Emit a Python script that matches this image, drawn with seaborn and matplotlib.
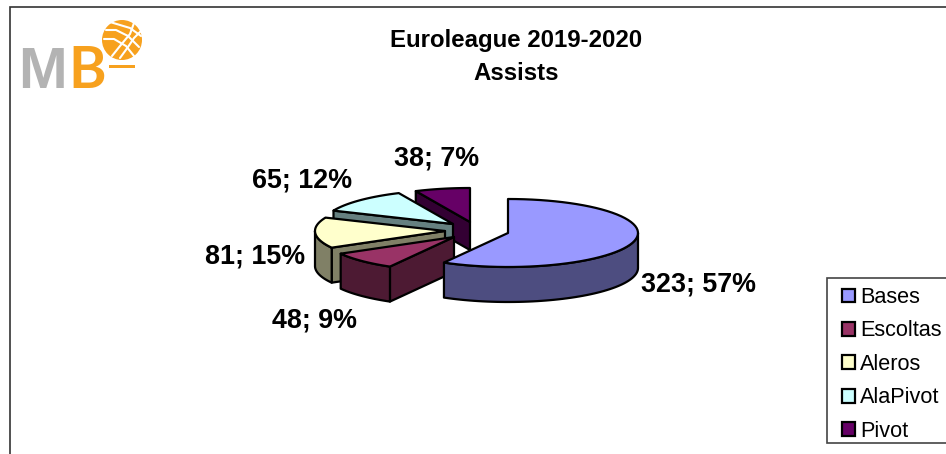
import numpy as np
import matplotlib
matplotlib.use("Agg")
import matplotlib.pyplot as plt
from matplotlib.patches import Polygon, Patch, Circle, Rectangle
import seaborn as sns

categories = ["Bases", "Escoltas", "Aleros", "AlaPivot", "Pivot"]
values = [323, 48, 81, 65, 38]
percents = [57, 9, 15, 12, 7]
colors = ["#9999FF", "#993366", "#FFFFCC", "#CCFFFF", "#660066"]
side_colors = ["#4D4D80", "#4D1A33", "#808066", "#668080", "#330033"]
centers = [(508, 233), (454, 237), (445, 231), (453, 224), (470, 222)]
depths = [35, 35, 35, 35, 28]
label_pos = [(698, 285), (314, 321), (255, 257), (302, 181), (437, 159)]
title_lines = ["Euroleague 2019-2020", "Assists"]

sns.set_theme(style="white")
plt.rcParams["font.family"] = ["Liberation Sans", "DejaVu Sans"]

fig = plt.figure(figsize=(9.46, 4.54), dpi=100)
ax = fig.add_axes([0, 0, 1, 1])
ax.set_xlim(0, 946)
ax.set_ylim(454, 0)
ax.axis("off")

# frame (open at right / bottom)
ax.plot([10, 10, 946], [454, 7, 7], color="#333333", lw=1.2, solid_joinstyle="miter")

RX, RY = 130, 34
LW = 1.6


def arc(c, a0, a1, n=60):
    t = np.radians(np.linspace(a0, a1, n))
    return np.column_stack([c[0] + RX * np.sin(t), c[1] - RY * np.cos(t)])


def poly(pts, fc, z):
    ax.add_patch(Polygon(pts, closed=True, facecolor=fc, edgecolor="black",
                         lw=LW, joinstyle="round", zorder=z))


edges = np.concatenate([[0], np.cumsum(values)]) / np.sum(values) * 360
for i in range(len(values) - 1, -1, -1):
    c, d = centers[i], depths[i]
    a0, a1 = edges[i], edges[i + 1]
    z = 10 + (len(values) - i) * 3
    down = np.array([0, d])
    # cut face at the leading angle
    if 180 < a0 < 360:
        p = arc(c, a0, a0, 1)[0]
        poly([c, p, p + down, np.array(c) + down], side_colors[i], z)
    # outer rim
    lo, hi = max(a0, 90), min(a1, 270)
    if lo < hi:
        a = arc(c, lo, hi)
        poly(np.vstack([a, (a + down)[::-1]]), side_colors[i], z + 1)
    # top
    poly(np.vstack([[c], arc(c, a0, a1)]), colors[i], z + 2)

for v, p, pos in zip(values, percents, label_pos):
    ax.text(pos[0], pos[1], f"{v}; {p}%", fontsize=19.4, fontweight="bold",
            ha="center", va="center", color="black", zorder=40)

for line, y in zip(title_lines, [41, 74]):
    ax.text(516, y, line, fontsize=17.3, fontweight="bold", ha="center", va="center", color="black")

# logo
ax.text(18, 88, "M", fontsize=42, fontweight="bold", color="#b3b3b3", ha="left", va="baseline")
ax.text(68, 88, "B", fontsize=41, fontweight="bold", color="#f7a11e", ha="left", va="baseline",
        family=["Lato", "Liberation Sans"])
ax.add_patch(Circle((122, 40), 20, facecolor="#f7a11e", edgecolor="none", zorder=5))
for xs, ys in [([106, 116, 128, 139], [30, 30, 36, 47]),
               ([104, 114, 126, 134], [39, 39, 46, 56]),
               ([110, 120, 130, 141], [22, 25, 28, 36]),
               ([112, 120, 130, 134], [56, 46, 34, 23]),
               ([120, 128, 134, 141], [58, 47, 38, 31])]:
    ax.plot(xs, ys, color="white", lw=1.5, zorder=6)
ax.add_patch(Rectangle((109, 65), 26, 2.5, facecolor="#f7a11e", edgecolor="none"))

# legend: open box running off the right edge, entries from the library legend
ax.add_patch(Rectangle((827, 278), 130, 165, facecolor="white", edgecolor="#444444", lw=1.2, zorder=30))
handles = [Patch(facecolor=col, edgecolor="black", lw=1.6) for col in colors]
leg = ax.legend(handles, categories, loc="upper left", bbox_to_anchor=(834, 279),
                bbox_transform=ax.transData, borderaxespad=0, fontsize=15.6,
                frameon=False, handlelength=0.6, handleheight=0.6, handletextpad=0.23,
                labelspacing=0.576, borderpad=0.37)
leg.set_zorder(35)
for t in leg.get_texts():
    t.set_color("black")

fig.savefig("out.png", dpi=100)
